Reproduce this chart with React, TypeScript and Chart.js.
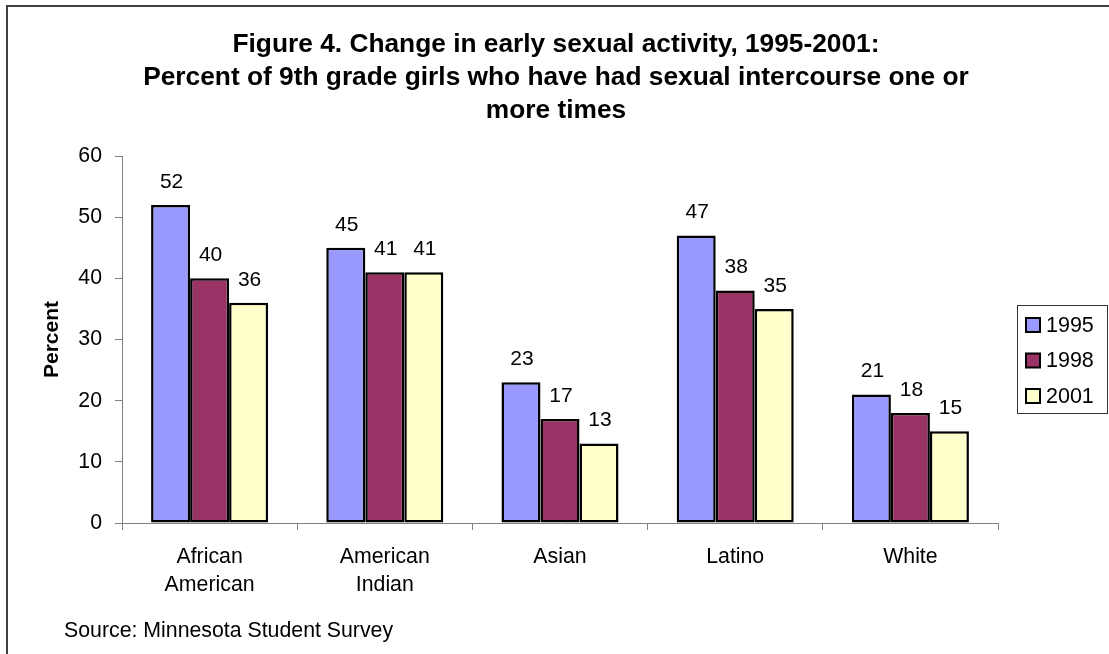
import React, { useEffect, useRef } from 'react';
import { Chart, registerables } from 'chart.js';

Chart.register(...registerables);

const FONT = '"Liberation Sans", Arial, Helvetica, sans-serif';

// Chart content
const titleLines = [
  'Figure 4. Change in early sexual activity, 1995-2001:',
  'Percent of 9th grade girls who have had sexual intercourse one or',
  'more times',
];
const categories: (string | string[])[] = [
  ['African', 'American'],
  ['American', 'Indian'],
  'Asian',
  'Latino',
  'White',
];
const seriesNames = ['1995', '1998', '2001'];
const values1995 = [52, 45, 23, 47, 21];
const values1998 = [40, 41, 17, 38, 18];
const values2001 = [36, 41, 13, 35, 15];
const seriesColors = ['#9999FF', '#993366', '#FFFFCC'];
const yAxisTitle = 'Percent';
const yMin = 0;
const yMax = 60;
const yStep = 10;
const sourceNote = 'Source: Minnesota Student Survey';

// Frame, title, value labels, legend box and source line
const decorations = {
  id: 'decorations',
  beforeDraw(chart: any) {
    const { ctx, width, height } = chart;
    ctx.save();
    ctx.fillStyle = '#ffffff';
    ctx.fillRect(0, 0, width, height);
    // outer frame (runs off the right and bottom edges)
    ctx.strokeStyle = '#404040';
    ctx.lineWidth = 2;
    ctx.beginPath();
    ctx.moveTo(7, height + 10);
    ctx.lineTo(7, 6);
    ctx.lineTo(width + 10, 6);
    ctx.stroke();
    // title
    ctx.fillStyle = '#000000';
    ctx.font = `bold 26.3px ${FONT}`;
    ctx.textAlign = 'center';
    ctx.textBaseline = 'middle';
    titleLines.forEach((line, i) => ctx.fillText(line, 556, 45 + i * 33));
    // source
    ctx.font = `21.3px ${FONT}`;
    ctx.textAlign = 'left';
    ctx.fillText(sourceNote, 64, 631);
    ctx.restore();
  },
  afterDatasetsDraw(chart: any) {
    const { ctx } = chart;
    ctx.save();
    ctx.fillStyle = '#000000';
    ctx.font = `21px ${FONT}`;
    ctx.textAlign = 'center';
    ctx.textBaseline = 'middle';
    chart.data.datasets.forEach((ds: any, di: number) => {
      const meta = chart.getDatasetMeta(di);
      meta.data.forEach((el: any, i: number) => {
        ctx.fillText(String(Math.round(ds.data[i])), el.x + 1, el.y - 23);
      });
    });
    ctx.restore();
  },
  afterDraw(chart: any) {
    const { ctx } = chart;
    ctx.save();
    const boxX = 1017.5;
    const boxY = 305.5;
    ctx.strokeStyle = '#333333';
    ctx.lineWidth = 1;
    ctx.strokeRect(boxX, boxY, 90, 108);
    ctx.font = `21.5px ${FONT}`;
    ctx.textAlign = 'left';
    ctx.textBaseline = 'middle';
    chart.data.datasets.forEach((ds: any, i: number) => {
      const cy = 325 + i * 35.5;
      ctx.fillStyle = ds.backgroundColor;
      ctx.fillRect(1026, cy - 7, 14, 14);
      ctx.strokeStyle = '#000000';
      ctx.lineWidth = 2;
      ctx.strokeRect(1026, cy - 7, 14, 14);
      ctx.fillStyle = '#000000';
      ctx.fillText(ds.label, 1046, cy + 1);
    });
    ctx.restore();
  },
};

export default function App() {
  const canvasRef = useRef<HTMLCanvasElement | null>(null);

  useEffect(() => {
    document.body.style.margin = '0';
    const canvas = canvasRef.current;
    if (!canvas) return;
    const seriesValues = [values1995, values1998, values2001];
    const chart = new Chart(canvas, {
      type: 'bar',
      data: {
        labels: categories,
        datasets: seriesNames.map((name, i) => ({
          label: name,
          data: seriesValues[i],
          backgroundColor: seriesColors[i],
          borderColor: '#000000',
          borderWidth: 2.5,
          borderSkipped: false,
          categoryPercentage: 0.668,
          barPercentage: 1,
        })),
      },
      options: {
        responsive: false,
        animation: false,
        devicePixelRatio: 1,
        layout: { padding: { left: 0, right: 111, top: 156, bottom: 51 } },
        plugins: {
          legend: { display: false },
          title: { display: false },
          tooltip: { enabled: false },
        },
        scales: {
          x: {
            grid: {
              display: true,
              drawOnChartArea: false,
              drawTicks: true,
              tickLength: 7,
              color: '#808080',
              offset: true,
            },
            border: { color: '#808080', width: 1 },
            ticks: {
              color: '#000000',
              font: { family: FONT, size: 21.3, lineHeight: 1.32 },
              padding: 13,
              maxRotation: 0,
              autoSkip: false,
            },
            afterFit(scale: any) {
              scale.height = 80;
            },
          },
          y: {
            min: yMin,
            max: yMax,
            grid: {
              display: true,
              drawOnChartArea: false,
              drawTicks: true,
              tickLength: 7,
              color: '#808080',
            },
            border: { color: '#808080', width: 1 },
            ticks: {
              stepSize: yStep,
              color: '#000000',
              font: { family: FONT, size: 21.3 },
              padding: 13,
            },
            title: {
              display: true,
              text: yAxisTitle,
              color: '#000000',
              font: { family: FONT, size: 21, weight: 'bold' },
              padding: { top: 40, bottom: 0 },
            },
            afterFit(scale: any) {
              scale.width = 122;
            },
          },
        },
      },
      plugins: [decorations],
    });
    return () => chart.destroy();
  }, []);

  return (
    <div style={{ width: 1109, height: 654 }}>
      <canvas ref={canvasRef} width={1109} height={654} />
    </div>
  );
}
